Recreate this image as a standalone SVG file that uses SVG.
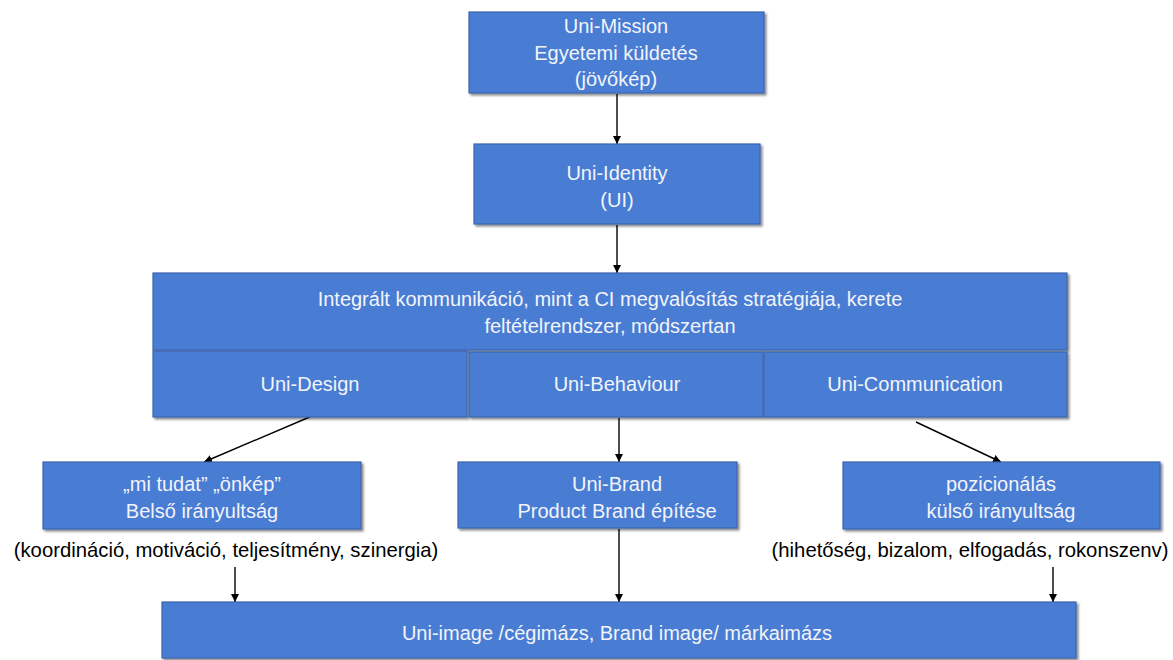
<svg xmlns="http://www.w3.org/2000/svg" width="1173" height="660" viewBox="0 0 1173 660">
<style>
.box{fill:#4a7bd3;stroke:#3a64ad;stroke-width:1.2;filter:url(#sh)}
.t{font-family:"Liberation Sans",Arial,sans-serif;font-size:20px;fill:#f2f4fa;text-anchor:middle}
.lbl{font-family:"Liberation Sans",Arial,sans-serif;font-size:20.3px;fill:#000;text-anchor:middle}
.c{stroke:#000;stroke-width:1.4;fill:none;marker-end:url(#ah)}
</style>
<defs>
<filter id="sh" x="-5%" y="-10%" width="110%" height="130%">
<feDropShadow dx="2" dy="2" stdDeviation="1.2" flood-color="#000" flood-opacity="0.45"/>
</filter>
<marker id="ah" viewBox="0 0 10 10" refX="10" refY="5" markerWidth="8" markerHeight="8" markerUnits="userSpaceOnUse" orient="auto">
<path d="M0,0 L10,5 L0,10 z" fill="#000"/>
</marker>
</defs>
<rect width="1173" height="660" fill="#fff"/>
<g id="connectors">
<line class="c" x1="617" y1="94" x2="617" y2="144"/>
<line class="c" x1="617" y1="225" x2="617" y2="273"/>
<line class="c" x1="312" y1="416" x2="204" y2="462"/>
<line class="c" x1="619" y1="418" x2="619" y2="462"/>
<line class="c" x1="916" y1="422" x2="1001" y2="462"/>
<line class="c" x1="235" y1="567" x2="235" y2="602"/>
<line class="c" x1="619" y1="529" x2="619" y2="602"/>
<line class="c" x1="1053" y1="567" x2="1053" y2="602"/>
</g>
<g id="mission">
<rect class="box" x="469" y="12" width="295" height="81"/>
<text class="t" x="616" y="33">Uni-Mission</text>
<text class="t" x="616" y="60">Egyetemi küldetés</text>
<text class="t" x="616" y="86">(jövőkép)</text>
</g>
<g id="identity">
<rect class="box" x="474" y="144" width="286" height="80"/>
<text class="t" x="617" y="180">Uni-Identity</text>
<text class="t" x="617" y="207">(UI)</text>
</g>
<g id="integralt">
<rect class="box" x="153" y="273" width="914" height="77"/>
<text class="t" x="610" y="306">Integrált kommunikáció, mint a CI megvalósítás stratégiája, kerete</text>
<text class="t" x="610" y="333">feltételrendszer, módszertan</text>
</g>
<g id="design">
<rect class="box" x="153" y="351" width="314" height="66"/>
<text class="t" x="310" y="391">Uni-Design</text>
</g>
<g id="behaviour">
<rect class="box" x="469" y="352" width="294" height="65"/>
<text class="t" x="617" y="391">Uni-Behaviour</text>
</g>
<g id="communication">
<rect class="box" x="764" y="352" width="303" height="65"/>
<text class="t" x="915" y="391">Uni-Communication</text>
</g>
<g id="belso">
<rect class="box" x="43" y="462" width="318" height="67"/>
<text class="t" x="202" y="491">„mi tudat” „önkép”</text>
<text class="t" x="202" y="518">Belső irányultság</text>
</g>
<g id="brand">
<rect class="box" x="458" y="462" width="279" height="66"/>
<text class="t" x="617" y="491">Uni-Brand</text>
<text class="t" x="617" y="518">Product Brand építése</text>
</g>
<g id="pozicionalas">
<rect class="box" x="843" y="462" width="317" height="67"/>
<text class="t" x="1001" y="491">pozicionálás</text>
<text class="t" x="1001" y="518">külső irányultság</text>
</g>
<g id="label-left">
<text class="lbl" x="226" y="557">(koordináció, motiváció, teljesítmény, szinergia)</text>
</g>
<g id="label-right">
<text class="lbl" x="970" y="557">(hihetőség, bizalom, elfogadás, rokonszenv)</text>
</g>
<g id="image">
<rect class="box" x="162" y="602" width="914" height="56"/>
<text class="t" x="617" y="640">Uni-image /cégimázs, Brand image/ márkaimázs</text>
</g>
</svg>
